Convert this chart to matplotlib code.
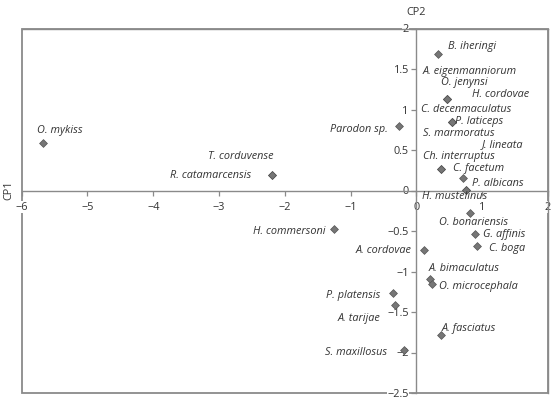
import matplotlib
matplotlib.use("Agg")
import matplotlib.pyplot as plt
from matplotlib.patches import Rectangle

# species scores on the first two principal components
species = ["B. iheringi", "A. eigenmanniorum", "O. jenynsi", "H. cordovae",
           "C. decenmaculatus", "P. laticeps", "S. marmoratus", "J. lineata",
           "Ch. interruptus", "C. facetum", "P. albicans", "H. mustelinus",
           "Parodon sp.", "O. bonariensis", "G. affinis", "C. boga",
           "A. cordovae", "A. bimaculatus", "O. microcephala", "P. platensis",
           "A. tarijae", "A. fasciatus", "S. maxillosus", "H. commersoni",
           "O. mykiss", "T. corduvense", "R. catamarcensis"]
cp1 = [0.33, 0.46, 0.46, 0.46,
       0.535, 0.535, 0.535, 0.71,
       0.38, 0.38, 0.75, 0.75,
       -0.27, 0.81, 0.89, 0.92,
       0.12, 0.205, 0.24, -0.36,
       -0.33, 0.38, -0.185, -1.26,
       -5.67, -2.19, -2.19]
cp2 = [1.69, 1.13, 1.13, 1.13,
       0.85, 0.85, 0.85, 0.15,
       0.27, 0.27, 0.01, 0.01,
       0.80, -0.28, -0.54, -0.69,
       -0.74, -1.09, -1.155, -1.27,
       -1.41, -1.79, -1.97, -0.47,
       0.59, 0.19, 0.19]

xticks = [-6, -5, -4, -3, -2, -1, 0, 1, 2]
yticks = [-2.5, -2, -1.5, -1, -0.5, 0, 0.5, 1, 1.5, 2]

# where each name is written (layout only)
lab_x = [0.48, 0.10, 0.38, 0.84, 0.065, 0.585, 0.10, 0.99, 0.10, 0.56, 0.84, 0.08,
         -0.43, 0.35, 1.006, 1.107, -0.08, 0.18, 0.35, -0.555, -0.545, 0.38, -0.443,
         -1.375, -5.425, -2.165, -2.505]
lab_y = [1.78, 1.47, 1.33, 1.18, 1.00, 0.855, 0.70, 0.565, 0.42, 0.27, 0.09, -0.08,
         0.755, -0.40, -0.54, -0.72, -0.74, -0.96, -1.19, -1.295, -1.575, -1.70, -2.0,
         -0.50, 0.74, 0.42, 0.18]
lab_ha = ["left"] * 12 + ["right", "left", "left", "left", "right", "left", "left",
                          "right", "right", "left", "right", "right", "center",
                          "right", "right"]

plt.rcParams["font.family"] = ["Open Sans", "DejaVu Sans"]
line_col = "#8a8a8a"
txt_col = "#333333"

fig = plt.figure(figsize=(5.55, 4.04), dpi=100)
ax = fig.add_axes([21.7 / 555, 1 - 393 / 404, (548 - 21.7) / 555, (393 - 28.5) / 404])
ax.set_xlim(-6, 2)
ax.set_ylim(-2.5, 2)

# axes through the origin, frame around the plot
ax.spines["left"].set_position(("data", 0))
ax.spines["bottom"].set_position(("data", 0))
for s in ax.spines.values():
    s.set_color(line_col)
    s.set_linewidth(1.0)
ax.add_patch(Rectangle((0, 0), 1, 1, transform=ax.transAxes, fill=False,
                       edgecolor=line_col, linewidth=1.3, zorder=1, clip_on=False))

ax.set_xticks(xticks)
ax.set_yticks(yticks)
ax.set_xticklabels([f"{v:g}".replace("-", "\u2212") for v in xticks])
ax.set_yticklabels([f"{v:g}".replace("-", "\u2212") for v in yticks])
ax.tick_params(direction="out", length=3.5, width=0.9, color=line_col,
               labelsize=7.8, labelcolor=txt_col, pad=2)
ax.tick_params(axis="x", pad=4.5)
for t in ax.get_xticklabels() + ax.get_yticklabels():
    t.set_bbox(dict(facecolor="white", edgecolor="none", pad=0.3))

ax.scatter(cp1, cp2, marker="D", s=16, color="#767676", edgecolor="#555555",
           linewidth=0.5, zorder=3)

for name, x, y, ha in zip(species, lab_x, lab_y, lab_ha):
    ax.text(x, y, name, ha=ha, va="center", fontsize=7.8, style="italic",
            color=txt_col, zorder=4)

ax.annotate("CP2", xy=(0, 1), xycoords=("data", "axes fraction"), xytext=(0, 11.5),
            textcoords="offset points", ha="center", va="center", fontsize=7.8,
            color=txt_col)
ax.annotate("CP1", xy=(0, 0), xycoords=("axes fraction", "data"), xytext=(-9.5, 0),
            textcoords="offset points", ha="center", va="center", fontsize=7.8,
            color=txt_col, rotation=90)

fig.savefig("out.png", dpi=100)
